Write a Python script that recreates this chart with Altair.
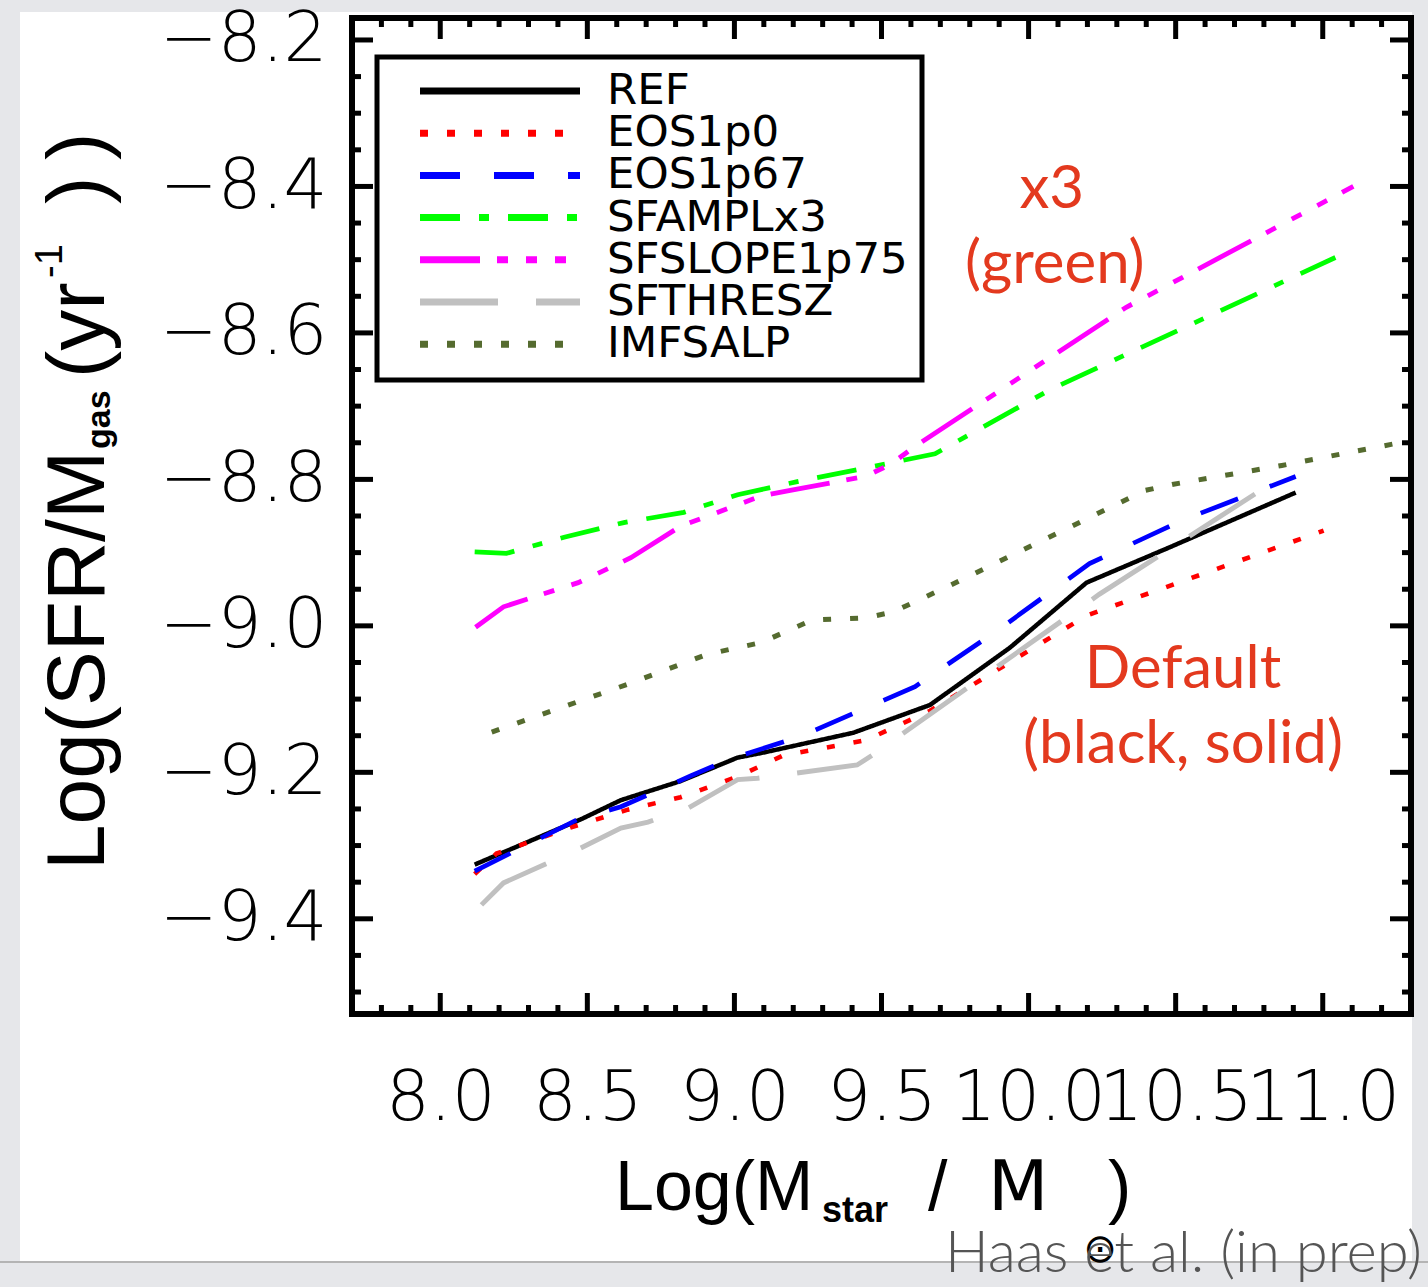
import altair as alt
import pandas as pd

# ---------------- data ----------------
MODELS = ["REF", "EOS1p0", "EOS1p67", "SFAMPLx3", "SFSLOPE1p75", "SFTHRESZ", "IMFSALP"]
COLORS = ["#000000", "#ff0000", "#0000ff", "#00ff00", "#ff00ff", "#c0c0c0", "#556b2f"]
DASHES = [[1, 0], [8, 19], [40, 34], [40, 19, 10, 19], [60, 17, 11, 18, 11, 18, 11, 17], [78, 38], [8, 19]]
WIDTHS = [4.5, 5, 5, 5, 5, 5, 5]

ref_x = [8.117, 8.479, 8.614, 8.817, 9.010, 9.099, 9.404, 9.665, 9.936, 10.197, 10.478, 10.908]
ref_y = [-9.326, -9.264, -9.238, -9.212, -9.180, -9.173, -9.146, -9.108, -9.030, -8.941, -8.893, -8.818]

eos1p0_x = [8.117, 8.191, 8.445, 8.638, 8.817, 9.010, 9.166, 9.448, 9.665, 10.197, 11.003]
eos1p0_y = [-9.339, -9.311, -9.275, -9.251, -9.234, -9.206, -9.177, -9.156, -9.116, -8.986, -8.870]

eos1p67_x = [8.117, 8.469, 8.614, 8.851, 8.977, 9.224, 9.614, 9.902, 10.207, 10.522, 10.908]
eos1p67_y = [-9.335, -9.264, -9.247, -9.205, -9.183, -9.151, -9.083, -9.004, -8.915, -8.856, -8.796]

sfampl_x = [8.117, 8.225, 8.421, 8.624, 8.828, 9.011, 9.214, 9.428, 9.682, 10.071, 11.043]
sfampl_y = [-8.899, -8.901, -8.879, -8.859, -8.845, -8.821, -8.803, -8.786, -8.765, -8.678, -8.497]

sfslope_x = [8.120, 8.215, 8.469, 8.648, 8.817, 9.089, 9.190, 9.444, 9.529, 9.614, 10.332, 11.104]
sfslope_y = [-9.002, -8.974, -8.941, -8.907, -8.864, -8.823, -8.815, -8.796, -8.780, -8.755, -8.565, -8.400]

sfthres_x = [8.140, 8.215, 8.469, 8.614, 8.706, 8.842, 9.011, 9.079, 9.417, 9.471, 9.587, 10.240, 10.816]
sfthres_y = [-9.381, -9.351, -9.305, -9.276, -9.268, -9.249, -9.210, -9.208, -9.190, -9.176, -9.143, -8.957, -8.808]

imfsalp_x = [8.175, 8.635, 8.906, 9.089, 9.265, 9.448, 9.539, 9.716, 10.397, 10.488, 10.861, 11.300]
imfsalp_y = [-9.145, -9.080, -9.039, -9.023, -8.992, -8.989, -8.981, -8.948, -8.815, -8.807, -8.781, -8.747]

X_MAJOR = [8.0, 8.5, 9.0, 9.5, 10.0, 10.5, 11.0]
X_MINOR = [7.8, 7.9, 8.1, 8.2, 8.3, 8.4, 8.6, 8.7, 8.8, 8.9, 9.1, 9.2, 9.3, 9.4,
           9.6, 9.7, 9.8, 9.9, 10.1, 10.2, 10.3, 10.4, 10.6, 10.7, 10.8, 10.9, 11.1, 11.2]
Y_MAJOR = [-8.2, -8.4, -8.6, -8.8, -9.0, -9.2, -9.4]
Y_MINOR = [-8.25, -8.3, -8.35, -8.45, -8.5, -8.55, -8.65, -8.7, -8.75, -8.85, -8.9, -8.95,
           -9.05, -9.1, -9.15, -9.25, -9.3, -9.35, -9.45, -9.5]

ANNOT_TEXT = ["x3", "(green)", "Default", "(black, solid)"]
ANNOT_X = [10.079, 10.089, 10.525, 10.525]
ANNOT_Y = [-8.405, -8.507, -9.060, -9.163]

# ---------------- layout ----------------
W, H = 1059, 996
xscale = alt.Scale(domain=[7.7, 11.3], nice=False, zero=False)
yscale = alt.Scale(domain=[-9.53, -8.17], nice=False, zero=False)

xaxis = alt.Axis(values=X_MAJOR, format=".1f", labelFont="DejaVu Sans", labelFontSize=69,
                 labelFontWeight=300, labelColor="black", labelPadding=50, ticks=False,
                 tickSize=0, domain=False, grid=False, title=None, labelOverlap=False,
                 labelFlush=False, zindex=1)
yaxis = alt.Axis(values=Y_MAJOR, format=".1f", labelFont="DejaVu Sans", labelFontSize=69,
                 labelFontWeight=300, labelColor="black", labelPadding=25, ticks=False,
                 tickSize=0, domain=False, grid=False, title=None, labelOverlap=False,
                 labelFlush=False, zindex=1)

rows = []
series = [(ref_x, ref_y), (eos1p0_x, eos1p0_y), (eos1p67_x, eos1p67_y), (sfampl_x, sfampl_y),
          (sfslope_x, sfslope_y), (sfthres_x, sfthres_y), (imfsalp_x, imfsalp_y)]
for name, (xs, ys) in zip(MODELS, series):
    for xv, yv in zip(xs, ys):
        rows.append({"model": name, "x": xv, "y": yv})
df = pd.DataFrame(rows)

one = pd.DataFrame({"d": [0]})

bg = alt.Chart(one).mark_rect(color="white").encode(
    x=alt.value(-332), x2=alt.value(W + 1), y=alt.value(-6), y2=alt.value(1244))
bottom_line = alt.Chart(one).mark_rule(color="#b4b4b4", strokeWidth=2).encode(
    x=alt.value(-352), x2=alt.value(W + 17), y=alt.value(1244))

lines = alt.Chart(df).mark_line(clip=True).encode(
    x=alt.X("x:Q", scale=xscale, axis=xaxis),
    y=alt.Y("y:Q", scale=yscale, axis=yaxis),
    color=alt.Color("model:N", scale=alt.Scale(domain=MODELS, range=COLORS), legend=None),
    strokeDash=alt.StrokeDash("model:N", scale=alt.Scale(domain=MODELS, range=DASHES), legend=None),
    strokeWidth=alt.StrokeWidth("model:N", scale=alt.Scale(domain=MODELS, range=WIDTHS), legend=None),
    detail="model:N",
)


def xticks(vals, length, top):
    y0 = 0 if top else H
    y1 = length if top else H - length
    return alt.Chart(pd.DataFrame({"v": vals})).mark_rule(color="black", strokeWidth=5).encode(
        x=alt.X("v:Q", scale=xscale, axis=xaxis), y=alt.value(y0), y2=alt.value(y1))


def yticks(vals, length, right):
    x0 = W if right else 0
    x1 = W - length if right else length
    return alt.Chart(pd.DataFrame({"v": vals})).mark_rule(color="black", strokeWidth=5).encode(
        y=alt.Y("v:Q", scale=yscale, axis=yaxis), x=alt.value(x0), x2=alt.value(x1))


ticks = [xticks(X_MAJOR, 21, False), xticks(X_MINOR, 9, False),
         xticks(X_MAJOR, 21, True), xticks(X_MINOR, 9, True),
         yticks(Y_MAJOR, 21, False), yticks(Y_MINOR, 9, False),
         yticks(Y_MAJOR, 21, True), yticks(Y_MINOR, 9, True)]

frame = [
    alt.Chart(one).mark_rule(color="black", strokeWidth=6, strokeCap="square").encode(
        x=alt.value(0), x2=alt.value(W), y=alt.value(0)),
    alt.Chart(one).mark_rule(color="black", strokeWidth=6, strokeCap="square").encode(
        x=alt.value(0), x2=alt.value(W), y=alt.value(H)),
    alt.Chart(one).mark_rule(color="black", strokeWidth=6, strokeCap="square").encode(
        y=alt.value(0), y2=alt.value(H), x=alt.value(0)),
    alt.Chart(one).mark_rule(color="black", strokeWidth=6, strokeCap="square").encode(
        y=alt.value(0), y2=alt.value(H), x=alt.value(W)),
]

# ---------------- legend (drawn as a boxed key) ----------------
LEG_X0, LEG_X1, LEG_Y0, LEG_Y1 = 25, 570, 39, 362
legend_layers = [alt.Chart(one).mark_rect(fill="white", stroke="black", strokeWidth=5).encode(
    x=alt.value(LEG_X0), x2=alt.value(LEG_X1), y=alt.value(LEG_Y0), y2=alt.value(LEG_Y1))]
for i, (name, col, dash) in enumerate(zip(MODELS, COLORS, DASHES)):
    ry = 73 + 42.2 * i
    legend_layers.append(
        alt.Chart(one).mark_rule(color=col, strokeWidth=7, strokeDash=dash).encode(
            x=alt.value(68), x2=alt.value(228), y=alt.value(ry)))
    legend_layers.append(
        alt.Chart(pd.DataFrame({"t": [name]})).mark_text(
            font="DejaVu Sans", fontSize=43.5, align="left", baseline="middle", color="black").encode(
            text="t:N", x=alt.value(255), y=alt.value(ry)))

annot = alt.Chart(pd.DataFrame({"t": ANNOT_TEXT, "x": ANNOT_X, "y": ANNOT_Y})).mark_text(
    font="Lato", fontSize=60, color="#e3391e", align="center",
    baseline="middle").encode(
    x=alt.X("x:Q", scale=xscale, axis=xaxis), y=alt.Y("y:Q", scale=yscale, axis=yaxis), text="t:N")


def label(txt, px, py, size, angle=0, align="left", weight="normal", font="Liberation Sans",
          color="black"):
    kw = dict(font=font, fontSize=size, align=align, baseline="alphabetic", color=color,
              fontWeight=weight)
    if angle:
        kw["angle"] = angle
    return alt.Chart(pd.DataFrame({"t": [txt]})).mark_text(**kw).encode(
        text="t:N", x=alt.value(px), y=alt.value(py))


ytitle = [
    label("Log(SFR/M", -248, 852, 82, angle=270),
    label("gas", -242, 431, 34, angle=270, weight="bold"),
    label("(yr", -248, 360, 82, angle=270),
    label("-1", -290, 260, 38, angle=270),
    label(")", -248, 186, 82, angle=270),
    label(")", -248, 142, 82, angle=270),
]
xtitle = [
    label("Log(M", 263, 1192, 70),
    label("star", 470, 1204, 36, weight="bold"),
    label("/", 576, 1192, 70),
    label("M", 636, 1192, 70, font="DejaVu Sans"),
    label("\u2299", 748, 1244, 40, align="center", font="DejaVu Sans"),
    label(")", 756, 1192, 70),
]
credit = label("Haas et al. (in prep)", 1070, 1254, 58, align="right", font="Lato",
               weight=300, color="#555555")

chart = alt.layer(bg, bottom_line, lines, *ticks, *frame, *legend_layers, annot, *ytitle,
                  *xtitle, credit).properties(
    width=W, height=H,
    autosize=alt.AutoSizeParams(type="none"),
    padding={"left": 352, "top": 18, "right": 17, "bottom": 273},
    background="#e6e7ea",
).configure_view(strokeWidth=0)

chart.save("out.html", embed_options={"renderer": "svg", "actions": False})
